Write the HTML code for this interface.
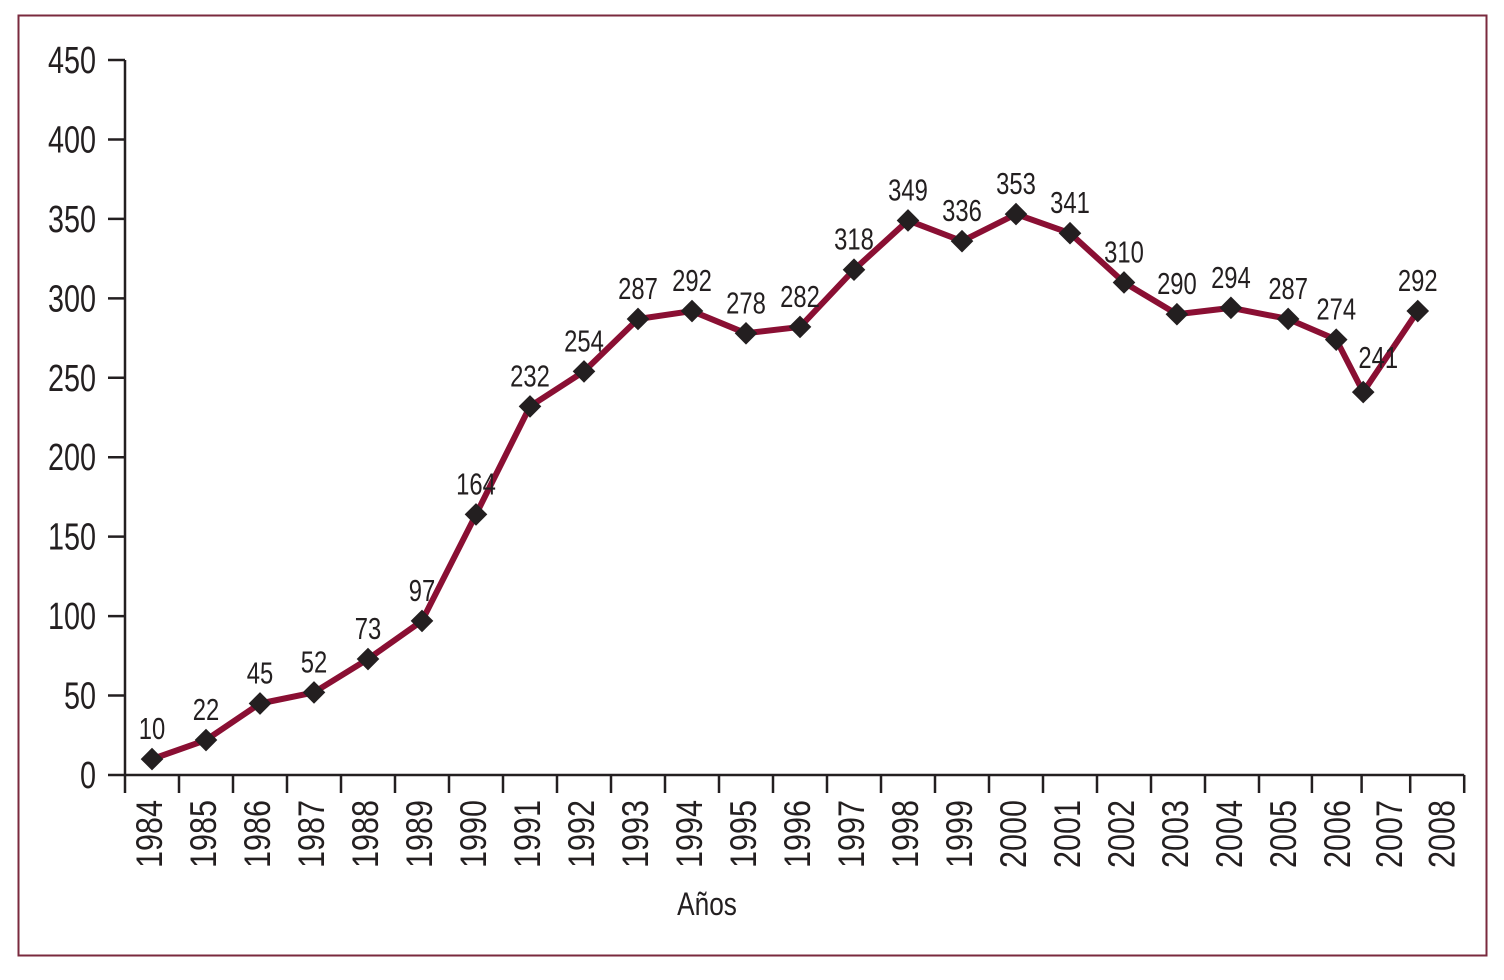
<!DOCTYPE html>
<html><head><meta charset="utf-8"><style>
html,body{margin:0;padding:0;background:#fff;}
svg text{font-family:"Liberation Sans",sans-serif;fill:#231f20;}
</style></head><body>
<svg width="1504" height="975" viewBox="0 0 1504 975">
<rect x="18.5" y="15.5" width="1468" height="940" fill="none" stroke="#7a2a3e" stroke-width="2"/>
<g id="yaxis"></g>
<g id="xaxis"></g>
<g id="series"></g>
<text transform="translate(707 915) scale(0.82 1)" font-size="32" text-anchor="middle">Años</text>
</svg>
<script>
const years = ["1984","1985","1986","1987","1988","1989","1990","1991","1992","1993","1994","1995","1996","1997","1998","1999","2000","2001","2002","2003","2004","2005","2006","2007","2008"];
const values = [10,22,45,52,73,97,164,232,254,287,292,278,282,318,349,336,353,341,310,290,294,287,274,241,292];
const pointPos = [0,1,2,3,4,5,6,7,8,9,10,11,12,13,14,15,16,17,18,18.98,19.98,21.04,21.93,22.43,23.44];
const labelPos = [-0.04,0.96,1.96,2.96,3.96,4.96,5.96,6.96,7.96,8.96,9.96,10.96,11.96,12.96,13.96,14.96,15.96,16.96,17.96,18.96,19.96,20.96,21.96,22.93,23.9];
const tickPos = [-0.5,0.5,1.5,2.5,3.5,4.5,5.5,6.5,7.5,8.5,9.5,10.5,11.5,12.5,13.5,14.5,15.5,16.5,17.5,18.5,19.5,20.5,21.48,22.4,23.3,24.3];
const yTicks = [0,50,100,150,200,250,300,350,400,450];
const NS="http://www.w3.org/2000/svg";
const x = u => 152 + u*54;
const y = v => 775 - v*(715/450);
function mk(tag, attrs, parent){const e=document.createElementNS(NS,tag);for(const k in attrs)e.setAttribute(k,attrs[k]);parent.appendChild(e);return e;}
const ya=document.getElementById('yaxis'), xa=document.getElementById('xaxis'), sg=document.getElementById('series');
let l=mk('line',{x1:125,y1:y(450),x2:125,y2:775,stroke:'#231f20','stroke-width':2.5},ya);


yTicks.forEach(v=>{
  const t=mk('line',{x1:108,y1:y(v),x2:125,y2:y(v),stroke:'#231f20','stroke-width':2.5},ya);
  
  
  const tx=mk('text',{transform:`translate(96 ${y(v)+13}) scale(0.8 1.05)`,'font-size':36,'text-anchor':'end'},ya);
  tx.textContent=v;
  
  
});
l=mk('line',{x1:125,y1:775,x2:x(tickPos[tickPos.length-1]),y2:775,stroke:'#231f20','stroke-width':2.5},xa);


tickPos.forEach(u=>{
  const t=mk('line',{x1:x(u),y1:775,x2:x(u),y2:793,stroke:'#231f20','stroke-width':2.5},xa);
  
  
});
years.forEach((yr,i)=>{
  const cx=x(labelPos[i])+12, cy=800;
  const tx=mk('text',{transform:`translate(${cx} ${cy}) rotate(-90) scale(0.85 1.02)`,'font-size':36,'text-anchor':'end'},xa);
  tx.textContent=yr;
  
  
});
const pts=values.map((v,i)=>x(pointPos[i])+','+y(v)).join(' ');
const pl=mk('polyline',{points:pts,fill:'none',stroke:'#8a0f33','stroke-width':6,'stroke-linejoin':'round'},sg);


values.forEach((v,i)=>{
  const px=x(pointPos[i]), py=y(v);
  const m=mk('rect',{x:px-8,y:py-8,width:16,height:16,fill:'#231f20',transform:`rotate(45 ${px} ${py})`},sg);
  
  
  const special = i===23;
  const lx = special?px+15:px, ly = special?py-24:py-20;
  const tx=mk('text',{transform:`translate(${lx} ${ly}) scale(0.85 1.08)`,'font-size':28,'text-anchor':'middle'},sg);
  tx.textContent=v;
  
  
});
</script>
</body></html>
